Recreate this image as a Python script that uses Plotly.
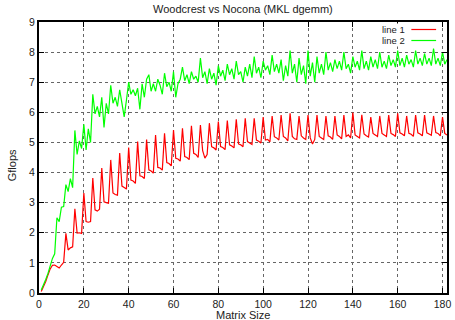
import plotly.graph_objects as go

matrix_size = list(range(1, 183))

line1 = [
    0.05, 0.2, 0.38, 0.6, 0.8, 0.92, 0.93, 0.88, 0.83, 0.93,
    1.02, 1.98, 1.43, 1.5, 1.53, 2.8, 1.99, 2.0, 1.98, 3.32,
    2.37, 2.35, 2.37, 3.82, 2.76, 2.72, 2.78, 4.15, 3.03, 3.0,
    2.98, 4.42, 3.32, 3.27, 3.25, 4.65, 3.55, 3.5, 3.45, 4.83,
    3.75, 3.72, 3.64, 5.03, 3.89, 3.87, 3.8, 5.1, 4.09, 4.05,
    3.98, 5.25, 4.17, 4.15, 4.08, 5.3, 4.33, 4.3, 4.22, 5.41,
    4.47, 4.45, 4.38, 5.47, 4.53, 4.5, 4.43, 5.55, 4.64, 4.6,
    4.5, 5.58, 4.73, 4.48, 4.6, 5.64, 4.86, 4.82, 4.75, 5.69,
    4.86, 4.83, 4.76, 5.73, 4.92, 4.88, 4.82, 5.77, 4.95, 4.92,
    4.86, 5.8, 5.03, 4.98, 4.93, 5.8, 5.08, 5.04, 4.98, 5.84,
    5.08, 5.1, 5.02, 5.88, 5.19, 5.15, 5.08, 5.91, 5.2, 5.15,
    5.05, 5.97, 5.2, 5.12, 5.1, 5.88, 5.22, 5.15, 5.1, 5.91,
    5.15, 4.95, 5.1, 5.91, 5.2, 5.15, 5.1, 5.88, 5.22, 5.18,
    5.1, 5.88, 5.25, 5.2, 5.12, 5.91, 5.2, 5.25, 5.15, 5.99,
    5.25, 5.2, 5.15, 5.92, 5.28, 5.22, 5.18, 5.84, 5.3, 5.25,
    5.2, 5.88, 5.3, 5.25, 5.2, 5.91, 5.3, 5.26, 5.2, 5.97,
    5.32, 5.28, 5.22, 5.88, 5.3, 5.27, 5.2, 5.91, 5.32, 5.28,
    5.22, 5.91, 5.32, 5.28, 5.24, 5.88, 5.33, 5.3, 5.22, 5.84,
    5.3, 5.25,
]

line2 = [
    0.1, 0.25, 0.45, 0.65, 0.9, 1.15, 1.3, 2.5, 2.37, 2.85,
    2.87, 3.6, 3.37, 3.8, 3.5, 5.4, 4.6, 5.05, 4.8, 5.6,
    4.75, 5.45, 5.0, 6.6, 5.95, 6.2, 5.85, 6.5, 5.5, 6.3,
    5.95, 6.9, 6.3, 6.5, 6.2, 6.75, 6.3, 5.85, 6.4, 7.0,
    6.6, 6.75, 6.55, 6.8, 6.1, 6.95, 6.5, 7.1, 7.25, 6.7,
    6.95, 6.7, 7.1, 6.9, 6.6, 7.3, 6.85, 7.0, 6.7, 7.35,
    6.5, 6.95, 7.1, 7.5, 7.05, 7.25, 6.95, 7.35, 7.1, 7.2,
    7.0, 7.8, 7.15, 7.35, 6.95, 7.45, 7.1, 7.3, 6.9, 7.55,
    7.2, 7.4, 7.05, 7.6, 7.25, 7.45, 7.1, 7.7, 7.25, 7.35,
    7.0, 7.5, 7.2, 7.6, 7.15, 7.85, 7.3, 7.5, 7.15, 7.7,
    7.4, 7.55, 7.25, 7.9, 7.35, 7.6, 7.3, 7.75, 7.05, 7.55,
    7.2, 8.05, 7.3, 7.6, 7.0, 7.8, 7.25, 7.55, 6.95, 8.05,
    7.2, 7.65, 7.0, 7.85, 7.3, 7.6, 7.25, 8.0, 7.4, 7.65,
    7.35, 7.75, 7.45, 7.7, 7.4, 8.0, 7.45, 7.6, 7.3, 7.85,
    7.5, 7.7, 7.4, 8.05, 7.45, 7.7, 7.4, 7.85, 7.5, 7.75,
    7.45, 8.0, 7.5, 7.7, 7.45, 7.9, 7.55, 7.75, 7.5, 8.05,
    7.55, 7.8, 7.5, 7.9, 7.6, 7.75, 7.5, 8.05, 7.6, 7.8,
    7.55, 7.95, 7.6, 7.8, 7.55, 8.12, 7.6, 7.8, 7.55, 8.0,
    7.6, 7.75,
]

series_names = ["line 1", "line 2"]
series_colors = ["#ff0000", "#00ff00"]

x_ticks = [0, 20, 40, 60, 80, 100, 120, 140, 160, 180]
y_ticks = [0, 1, 2, 3, 4, 5, 6, 7, 8, 9]

FONT = "Liberation Sans Narrow, Liberation Sans, Arial, sans-serif"
TXT = "#222222"

fig = go.Figure()
for name, vals, col in zip(series_names, [line1, line2], series_colors):
    fig.add_trace(go.Scatter(x=matrix_size, y=vals, mode="lines", name=name,
                             line=dict(color=col, width=1.2), showlegend=False))

axis_common = dict(
    showline=True, linewidth=2, linecolor="black", mirror="ticks",
    ticks="inside", ticklen=5, tickwidth=1, tickcolor="black",
    showgrid=True, gridcolor="#666666", griddash="dot", gridwidth=1,
    zeroline=False, tickfont=dict(family=FONT, size=10.5, color=TXT),
)

fig.update_layout(
    width=455, height=320,
    margin=dict(l=39, r=4, t=22, b=27),
    paper_bgcolor="white", plot_bgcolor="white",
    font=dict(family=FONT, size=11, color=TXT),
    xaxis=dict(range=[0, 182], tickvals=x_ticks, ticktext=[str(v) for v in x_ticks], **axis_common),
    yaxis=dict(range=[0, 9], tickvals=y_ticks, ticktext=[str(v) for v in y_ticks], **axis_common),
    showlegend=False,
)

W, L, H, T = 412.0, 39.0, 271.0, 22.0
def px(x):
    return (x - L) / W
def py(y):
    return 1 - (y - T) / H

annotations = [
    dict(text="Woodcrest vs Nocona (MKL dgemm)", x=px(245), y=py(9), xref="paper", yref="paper",
         showarrow=False, xanchor="center", yanchor="middle", font=dict(family=FONT, size=11, color=TXT)),
    dict(text="Matrix Size", x=px(245), y=py(315), xref="paper", yref="paper", borderpad=0,
         showarrow=False, xanchor="center", yanchor="middle", font=dict(family=FONT, size=11, color=TXT)),
    dict(text="Gflops", x=px(12), y=py(165), xref="paper", yref="paper", textangle=-90,
         showarrow=False, xanchor="center", yanchor="middle", font=dict(family=FONT, size=11, color=TXT)),
]
shapes = []
for i, (name, col) in enumerate(zip(series_names, series_colors)):
    yy = 29.5 + i * 11.0
    annotations.append(dict(text=name, x=px(410), y=py(yy), xref="paper", yref="paper",
                            showarrow=False, xanchor="right", yanchor="middle", borderpad=0,
                            bgcolor="white",
                            font=dict(family=FONT, size=9.5, color=TXT)))
    shapes.append(dict(type="line", xref="paper", yref="paper", x0=px(415), x1=px(440),
                       y0=py(yy), y1=py(yy), line=dict(color=col, width=1.2)))

fig.update_layout(annotations=annotations, shapes=shapes)
fig.write_html("out.html")
